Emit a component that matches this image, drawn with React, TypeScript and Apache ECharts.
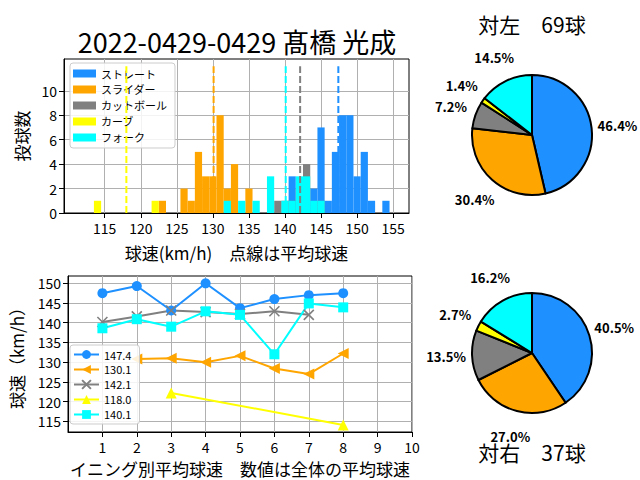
import React, { useEffect, useRef } from 'react';
import * as echarts from 'echarts';

const FONT = '"Noto Sans CJK JP", "Noto Sans", sans-serif';

const pitchTypes = ['ストレート', 'スライダー', 'カットボール', 'カーブ', 'フォーク'];
const pitchColors = ['#1e90ff', '#ffa500', '#808080', '#ffff00', '#00ffff'];

// histogram bins (km/h, bin centres)
const binCenters = [
  114, 115, 116, 117, 118, 119, 120, 121, 122, 123,
  124, 125, 126, 127, 128, 129, 130, 131, 132, 133,
  134, 135, 136, 137, 138, 139, 140, 141, 142, 143,
  144, 145, 146, 147, 148, 149, 150, 151, 152, 153,
  154,
];
const straightCounts = [
  0, 0, 0, 0, 0, 0, 0, 0, 0, 0,
  0, 0, 0, 0, 0, 0, 0, 0, 0, 0,
  0, 0, 0, 0, 0, 0, 0, 3, 1, 1,
  2, 7, 1, 5, 8, 8, 3, 5, 1, 0,
  1,
];
const sliderCounts = [
  0, 0, 0, 0, 0, 0, 0, 0, 0, 1,
  0, 0, 2, 1, 5, 3, 3, 8, 2, 4,
  0, 2, 0, 0, 0, 0, 0, 0, 0, 0,
  0, 0, 0, 0, 0, 0, 0, 0, 0, 0,
  0,
];
const cutCounts = [
  0, 0, 0, 0, 0, 0, 0, 0, 0, 0,
  0, 0, 0, 0, 0, 0, 0, 0, 0, 0,
  0, 0, 0, 0, 0, 1, 1, 1, 2, 4,
  0, 1, 0, 0, 0, 0, 0, 0, 0, 0,
  0,
];
const curveCounts = [
  1, 0, 0, 0, 0, 0, 0, 0, 1, 0,
  0, 0, 0, 0, 0, 0, 0, 0, 0, 0,
  0, 0, 0, 0, 0, 0, 0, 0, 0, 0,
  0, 0, 0, 0, 0, 0, 0, 0, 0, 0,
  0,
];
const forkCounts = [
  0, 0, 0, 0, 0, 0, 0, 0, 0, 0,
  0, 0, 0, 0, 0, 0, 0, 0, 1, 0,
  1, 0, 1, 0, 3, 0, 1, 1, 3, 3,
  1, 1, 0, 0, 0, 0, 0, 0, 0, 0,
  0,
];
const histCounts = [straightCounts, sliderCounts, cutCounts, curveCounts, forkCounts];

const meanSpeeds = [147.4, 130.1, 142.1, 118.0, 140.1];
const meanLineTop = 12;

const histXMin = 109.35;
const histXMax = 157.2;
const histYMax = 12.6;
const histXTicks = [115, 120, 125, 130, 135, 140, 145, 150, 155];
const histYTicks = [0, 2, 4, 6, 8, 10];

// inning averages
const straightByInning = [[1, 147.5], [2, 149.3], [3, 143.1], [4, 150.0], [5, 143.7], [6, 146.0], [7, 147.0], [8, 147.5]];
const sliderByInning = [[2, 130.8], [3, 131.0], [4, 130.0], [5, 131.6], [6, 128.4], [7, 127.0], [8, 132.2]];
const cutByInning = [[1, 140.2], [2, 141.6], [3, 143.1], [4, 142.7], [5, 142.2], [6, 142.9], [7, 142.0]];
const curveByInning = [[3, 122.2], [8, 114.1]];
const forkByInning = [[1, 138.6], [2, 140.9], [3, 139.0], [4, 142.9], [5, 142.0], [6, 132.0], [7, 144.9], [8, 143.9]];
const inningSeries = [straightByInning, sliderByInning, cutByInning, curveByInning, forkByInning];

const lineXTicks = [1, 2, 3, 4, 5, 6, 7, 8, 9, 10];
const lineYTicks = [115, 120, 125, 130, 135, 140, 145, 150];
const lineXMin = 0;
const lineXMax = 10;
const lineYMin = 112.3;
const lineYMax = 151.85;

// pies
const leftCounts = [32, 21, 5, 1, 10];
const rightCounts = [15, 10, 5, 1, 6];
const leftTitle = '対左　69球';
const rightTitle = '対右　37球';
const mainTitle = '2022-0429-0429 髙橋 光成';

const symbols = ['circle', 'triangle', 'path://M0,0L10,10M10,0L0,10', 'triangle', 'rect'];
const symbolRotates = [0, 90, 0, 0, 0];
const symbolSizes = [10, 11, 10, 11, 10];

function buildOption() {
  const histGrid = { left: 64, top: 59, width: 345, height: 154 };
  const lineGrid = { left: 64, top: 276, width: 348, height: 156 };
  const binPx = histGrid.width / (histXMax - histXMin);

  const axisCommon = {
    axisLine: { show: true, onZero: false, lineStyle: { color: '#000', width: 1 } },
    splitLine: { show: true, lineStyle: { color: '#b0b0b0', width: 1 } },
  };

  const series: any[] = [];
  histCounts.forEach((counts, i) => {
    series.push({
      type: 'bar',
      name: pitchTypes[i],
      xAxisIndex: 0,
      yAxisIndex: 0,
      stack: 'hist',
      barWidth: binPx,
      data: binCenters.map((b, j) => [b, counts[j]]),
      itemStyle: { color: pitchColors[i] },
      silent: true,
    });
  });
  meanSpeeds.forEach((m, i) => {
    series.push({
      type: 'line',
      name: 'mean' + i,
      xAxisIndex: 0,
      yAxisIndex: 0,
      data: [[m, 0], [m, meanLineTop]],
      symbol: 'none',
      lineStyle: { color: pitchColors[i], width: 2, type: [7, 3] },
      silent: true,
      z: 4,
    });
  });
  const lineNames = meanSpeeds.map((m) => m.toFixed(1));
  inningSeries.forEach((d, i) => {
    series.push({
      type: 'line',
      name: lineNames[i],
      xAxisIndex: 1,
      yAxisIndex: 1,
      data: d,
      symbol: symbols[i],
      symbolRotate: symbolRotates[i],
      symbolSize: symbolSizes[i],
      showAllSymbol: true,
      lineStyle: { color: pitchColors[i], width: 2 },
      itemStyle: i === 2
        ? { color: pitchColors[i], borderColor: pitchColors[i], borderWidth: 1.6 }
        : { color: pitchColors[i], borderWidth: 0 },
      silent: true,
      z: 3,
    });
  });

  const pieLabel = (counts: number[]) => {
    const total = counts.reduce((a, b) => a + b, 0);
    return (p: any) => ((p.value / total) * 100).toFixed(1) + '%';
  };
  const addPie = (counts: number[], center: number[]) => {
    series.push({
      type: 'pie',
      center,
      radius: 60,
      startAngle: 90,
      clockwise: true,
      silent: true,
      data: counts.map((v, i) => ({ value: v, name: 'p' + i, itemStyle: { color: pitchColors[i] } })),
      itemStyle: { borderColor: '#000', borderWidth: 2 },
      label: { show: false },
      labelLine: { show: false },
      emphasis: { disabled: true },
    });
    series.push({
      type: 'pie',
      center,
      radius: [80, 86],
      startAngle: 90,
      clockwise: true,
      silent: true,
      data: counts.map((v, i) => ({ value: v, name: 'q' + i, itemStyle: { color: 'rgba(0,0,0,0)' } })),
      itemStyle: { borderWidth: 0 },
      label: {
        show: true,
        position: 'inside',
        formatter: pieLabel(counts),
        fontSize: 13,
        fontWeight: 'bold',
        color: '#000',
        fontFamily: FONT,
      },
      labelLine: { show: false },
      emphasis: { disabled: true },
    });
  };
  addPie(leftCounts, [532, 135]);
  addPie(rightCounts, [532, 353]);

  return {
    animation: false,
    backgroundColor: '#fff',
    textStyle: { fontFamily: FONT },
    grid: [
      { ...histGrid, show: true, borderColor: '#000', borderWidth: 1, backgroundColor: 'transparent' },
      { ...lineGrid, show: true, borderColor: '#000', borderWidth: 1, backgroundColor: 'transparent' },
    ],
    xAxis: [
      {
        gridIndex: 0,
        type: 'value',
        min: histXMin,
        max: histXMax,
        ...axisCommon,
        axisTick: { show: true, length: 5, customValues: histXTicks, lineStyle: { color: '#000' } },
        axisLabel: { customValues: histXTicks, fontSize: 14, color: '#000', margin: 8, fontFamily: FONT },
        name: '球速(km/h)　点線は平均球速',
        nameLocation: 'middle',
        nameGap: 31,
        nameTextStyle: { fontSize: 17, color: '#000', fontFamily: FONT },
      },
      {
        gridIndex: 1,
        type: 'value',
        min: lineXMin,
        max: lineXMax,
        ...axisCommon,
        axisTick: { show: true, length: 5, customValues: lineXTicks, lineStyle: { color: '#000' } },
        axisLabel: { customValues: lineXTicks, fontSize: 14, color: '#000', margin: 8, fontFamily: FONT },
        name: 'イニング別平均球速　数値は全体の平均球速',
        nameLocation: 'middle',
        nameGap: 28,
        nameTextStyle: { fontSize: 17, color: '#000', fontFamily: FONT },
      },
    ],
    yAxis: [
      {
        gridIndex: 0,
        type: 'value',
        min: 0,
        max: histYMax,
        ...axisCommon,
        axisTick: { show: true, length: 5, customValues: histYTicks, lineStyle: { color: '#000' } },
        axisLabel: { customValues: histYTicks, fontSize: 14, color: '#000', margin: 7, fontFamily: FONT },
        name: '投球数',
        nameLocation: 'middle',
        nameGap: 34,
        nameTextStyle: { fontSize: 17, color: '#000', fontFamily: FONT },
      },
      {
        gridIndex: 1,
        type: 'value',
        min: lineYMin,
        max: lineYMax,
        ...axisCommon,
        axisTick: { show: true, length: 5, customValues: lineYTicks, lineStyle: { color: '#000' } },
        axisLabel: { customValues: lineYTicks, fontSize: 14, color: '#000', margin: 7, fontFamily: FONT },
        name: '球速（km/h）',
        nameLocation: 'middle',
        nameGap: 43,
        nameTextStyle: { fontSize: 17, color: '#000', fontFamily: FONT },
      },
    ],
    legend: [
      {
        data: pitchTypes,
        left: 70,
        top: 63,
        orient: 'vertical',
        icon: 'rect',
        itemWidth: 23,
        itemHeight: 8,
        itemGap: 5,
        padding: [5, 8, 5, 3],
        backgroundColor: 'rgba(255,255,255,0.85)',
        borderColor: '#cccccc',
        borderWidth: 1,
        borderRadius: 3,
        selectedMode: false,
        textStyle: { fontSize: 11, color: '#000', fontFamily: FONT },
      },
      {
        data: lineNames,
        left: 70,
        top: 345,
        orient: 'vertical',
        itemWidth: 25,
        itemHeight: 11,
        itemGap: 4,
        padding: [4, 8, 4, 3],
        backgroundColor: 'rgba(255,255,255,0.85)',
        borderColor: '#cccccc',
        borderWidth: 1,
        borderRadius: 3,
        selectedMode: false,
        textStyle: { fontSize: 11, color: '#000', fontFamily: FONT },
      },
    ],
    graphic: [
      {
        type: 'text',
        x: 237,
        y: 41,
        style: { text: mainTitle, fontSize: 27, fontFamily: FONT, fill: '#000', align: 'center', verticalAlign: 'middle' },
      },
      {
        type: 'text',
        x: 532,
        y: 24,
        style: { text: leftTitle, fontSize: 21, fontFamily: FONT, fill: '#000', align: 'center', verticalAlign: 'middle' },
      },
      {
        type: 'text',
        x: 532,
        y: 452,
        style: { text: rightTitle, fontSize: 21, fontFamily: FONT, fill: '#000', align: 'center', verticalAlign: 'middle' },
      },
    ],
    series,
  };
}

export default function App() {
  const ref = useRef<HTMLDivElement>(null);
  useEffect(() => {
    if (!ref.current) return;
    const chart = echarts.init(ref.current, null, { renderer: 'svg' });
    chart.setOption(buildOption() as any);
    return () => chart.dispose();
  }, []);
  return (
    <div
      ref={ref}
      style={{ position: 'fixed', left: 0, top: 0, width: 640, height: 480, background: '#fff' }}
    />
  );
}
